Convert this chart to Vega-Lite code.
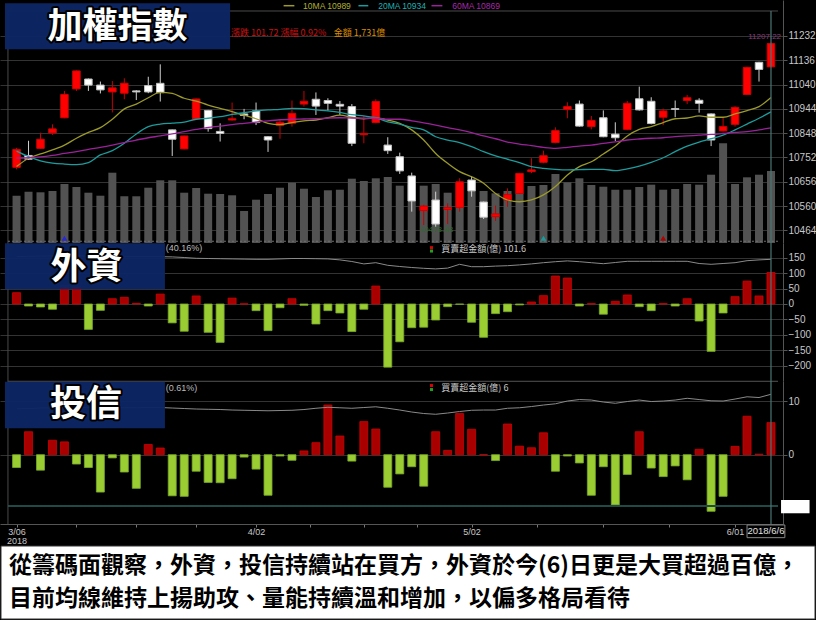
{
"$schema":"https://vega.github.io/schema/vega-lite/v6.json",
"background":"black",
"padding":0,
"bounds":"flush",
"spacing":0,
"config":{"view":{"stroke":null},"text":{"font":"Liberation Sans"}},
"datasets":{"d":[
{"i":0,"d":"3/06","o":10713,"h":10790,"l":10705,"c":10784,"v":1137,"m10":10716,"m20":10777,"m60":10750,"f":36.6,"fh":40.30,"t":-2.4,"th":0.552},
{"i":1,"d":"3/07","o":10760,"h":10818,"l":10742,"c":10745,"v":1233,"m10":10749,"m20":10755,"m60":10751,"f":-6.5,"fh":40.31,"t":4.3,"th":0.553},
{"i":2,"d":"3/08","o":10788,"h":10850,"l":10786,"c":10824,"v":1219,"m10":10766,"m20":10739,"m60":10754,"f":-9.7,"fh":40.32,"t":-2.9,"th":0.555},
{"i":3,"d":"3/09","o":10849,"h":10883,"l":10841,"c":10865,"v":1250,"m10":10782,"m20":10730,"m60":10760,"f":-17,"fh":40.33,"t":2.7,"th":0.556},
{"i":4,"d":"3/12","o":10909,"h":11015,"l":10907,"c":11001,"v":1418,"m10":10801,"m20":10726,"m60":10768,"f":60,"fh":40.33,"t":2.4,"th":0.557},
{"i":5,"d":"3/13","o":11023,"h":11096,"l":11015,"c":11094,"v":1346,"m10":10828,"m20":10724,"m60":10775,"f":55,"fh":40.33,"t":-1.75,"th":0.557},
{"i":6,"d":"3/14","o":11062,"h":11064,"l":11015,"c":11038,"v":1209,"m10":10851,"m20":10732,"m60":10784,"f":-82,"fh":40.32,"t":-2.4,"th":0.558},
{"i":7,"d":"3/15","o":11038,"h":11052,"l":11005,"c":11019,"v":1137,"m10":10870,"m20":10762,"m60":10792,"f":-20.5,"fh":40.32,"t":-7,"th":0.557},
{"i":8,"d":"3/16","o":11011,"h":11054,"l":10930,"c":11027,"v":1690,"m10":10903,"m20":10779,"m60":10801,"f":17,"fh":40.31,"t":-0.6,"th":0.557},
{"i":9,"d":"3/19","o":11006,"h":11065,"l":10982,"c":11045,"v":1123,"m10":10944,"m20":10808,"m60":10811,"f":21.5,"fh":40.31,"t":-3.25,"th":0.556},
{"i":10,"d":"3/20","o":11015,"h":11018,"l":10979,"c":11011,"v":1123,"m10":10963,"m20":10845,"m60":10821,"f":2,"fh":40.30,"t":-6.3,"th":0.556},
{"i":11,"d":"3/21","o":11036,"h":11071,"l":11006,"c":11011,"v":1329,"m10":10988,"m20":10874,"m60":10830,"f":-6.5,"fh":40.30,"t":1.9,"th":0.557},
{"i":12,"d":"3/22","o":11045,"h":11120,"l":10973,"c":11008,"v":1507,"m10":11009,"m20":10884,"m60":10837,"f":32,"fh":40.29,"t":1.25,"th":0.557},
{"i":13,"d":"3/23","o":10861,"h":10862,"l":10758,"c":10824,"v":1507,"m10":11005,"m20":10888,"m60":10845,"f":-61,"fh":40.28,"t":-7.7,"th":0.555},
{"i":14,"d":"3/26","o":10786,"h":10838,"l":10784,"c":10837,"v":1209,"m10":10986,"m20":10892,"m60":10854,"f":-88,"fh":40.25,"t":-7.8,"th":0.553},
{"i":15,"d":"3/27","o":10904,"h":10985,"l":10902,"c":10983,"v":1322,"m10":10975,"m20":10903,"m60":10863,"f":26,"fh":40.21,"t":-3.1,"th":0.551},
{"i":16,"d":"3/28","o":10938,"h":10940,"l":10854,"c":10866,"v":1185,"m10":10959,"m20":10907,"m60":10871,"f":-91.5,"fh":40.20,"t":-5.2,"th":0.550},
{"i":17,"d":"3/29","o":10855,"h":10887,"l":10815,"c":10847,"v":1178,"m10":10946,"m20":10913,"m60":10876,"f":-124,"fh":40.19,"t":-5.25,"th":0.549},
{"i":18,"d":"3/30","o":10900,"h":10969,"l":10898,"c":10905,"v":1147,"m10":10933,"m20":10922,"m60":10882,"f":19,"fh":40.18,"t":-4.5,"th":0.547},
{"i":19,"d":"3/31","o":10924,"h":10944,"l":10903,"c":10918,"v":769,"m10":10919,"m20":10929,"m60":10887,"f":0.5,"fh":40.17,"t":-0.45,"th":0.546},
{"i":20,"d":"4/02","o":10936,"h":10969,"l":10880,"c":10890,"v":1041,"m10":10905,"m20":10936,"m60":10892,"f":-21.5,"fh":40.16,"t":-2.7,"th":0.545},
{"i":21,"d":"4/03","o":10834,"h":10836,"l":10774,"c":10821,"v":1178,"m10":10887,"m20":10940,"m60":10897,"f":-86,"fh":40.16,"t":-7.6,"th":0.544},
{"i":22,"d":"4/09","o":10878,"h":10903,"l":10826,"c":10891,"v":1329,"m10":10882,"m20":10942,"m60":10901,"f":-12,"fh":40.18,"t":-0.25,"th":0.545},
{"i":23,"d":"4/10","o":10887,"h":10977,"l":10874,"c":10926,"v":1450,"m10":10890,"m20":10946,"m60":10903,"f":17,"fh":40.20,"t":-1.05,"th":0.546},
{"i":24,"d":"4/11","o":10963,"h":11015,"l":10953,"c":10974,"v":1305,"m10":10897,"m20":10945,"m60":10904,"f":-4.3,"fh":40.20,"t":0.7,"th":0.549},
{"i":25,"d":"4/12","o":10982,"h":11009,"l":10920,"c":10955,"v":1106,"m10":10900,"m20":10940,"m60":10905,"f":-64.6,"fh":40.19,"t":2.25,"th":0.554},
{"i":26,"d":"4/13","o":10977,"h":10986,"l":10937,"c":10966,"v":1267,"m10":10909,"m20":10936,"m60":10908,"f":-21.5,"fh":40.18,"t":9.3,"th":0.558},
{"i":27,"d":"4/16","o":10962,"h":10975,"l":10920,"c":10955,"v":1281,"m10":10919,"m20":10930,"m60":10909,"f":-29,"fh":40.13,"t":3.5,"th":0.556},
{"i":28,"d":"4/17","o":10953,"h":10963,"l":10797,"c":10808,"v":1546,"m10":10911,"m20":10921,"m60":10908,"f":-89,"fh":40.05,"t":-1.2,"th":0.554},
{"i":29,"d":"4/18","o":10842,"h":10916,"l":10808,"c":10847,"v":1490,"m10":10905,"m20":10916,"m60":10907,"f":-17,"fh":39.93,"t":6.2,"th":0.557},
{"i":30,"d":"4/19","o":10890,"h":10982,"l":10887,"c":10973,"v":1555,"m10":10908,"m20":10909,"m60":10907,"f":58,"fh":39.99,"t":4.8,"th":0.560},
{"i":31,"d":"4/20","o":10801,"h":10832,"l":10766,"c":10779,"v":1587,"m10":10900,"m20":10893,"m60":10903,"f":-204,"fh":39.86,"t":-6.1,"th":0.554},
{"i":32,"d":"4/23","o":10755,"h":10771,"l":10687,"c":10699,"v":1378,"m10":10887,"m20":10884,"m60":10903,"f":-122,"fh":39.80,"t":-3.6,"th":0.547},
{"i":33,"d":"4/24","o":10679,"h":10692,"l":10538,"c":10580,"v":1394,"m10":10861,"m20":10871,"m60":10897,"f":-76.5,"fh":39.75,"t":-2.25,"th":0.539},
{"i":34,"d":"4/25","o":10542,"h":10565,"l":10485,"c":10560,"v":1378,"m10":10821,"m20":10861,"m60":10889,"f":-75,"fh":39.71,"t":-5.9,"th":0.533},
{"i":35,"d":"4/26","o":10584,"h":10617,"l":10478.48,"c":10489,"v":1418,"m10":10768,"m20":10834,"m60":10880,"f":-51.7,"fh":39.68,"t":4.3,"th":0.530},
{"i":36,"d":"4/27","o":10547,"h":10571,"l":10489,"c":10554,"v":1209,"m10":10729,"m20":10821,"m60":10870,"f":-8.6,"fh":39.72,"t":0.8,"th":0.535},
{"i":37,"d":"4/30","o":10555,"h":10670,"l":10538,"c":10656,"v":1442,"m10":10696,"m20":10811,"m60":10861,"f":-1,"fh":39.91,"t":7.7,"th":0.541},
{"i":38,"d":"5/02","o":10663,"h":10679,"l":10597,"c":10620,"v":1250,"m10":10676,"m20":10795,"m60":10850,"f":-59,"fh":39.79,"t":4.75,"th":0.546},
{"i":39,"d":"5/03","o":10576,"h":10578,"l":10509,"c":10516,"v":1250,"m10":10650,"m20":10775,"m60":10837,"f":-107.6,"fh":39.79,"t":0,"th":0.547},
{"i":40,"d":"5/04","o":10518,"h":10562,"l":10501,"c":10529,"v":1195,"m10":10610,"m20":10758,"m60":10826,"f":-31,"fh":39.82,"t":-1.1,"th":0.547},
{"i":41,"d":"5/07","o":10584,"h":10630,"l":10557,"c":10605,"v":1250,"m10":10584,"m20":10745,"m60":10813,"f":-24.8,"fh":39.84,"t":5.75,"th":0.554},
{"i":42,"d":"5/08","o":10610,"h":10691,"l":10608,"c":10689,"v":1202,"m10":10577,"m20":10732,"m60":10805,"f":-3,"fh":39.88,"t":1.6,"th":0.556},
{"i":43,"d":"5/09","o":10696,"h":10749,"l":10690,"c":10703,"v":1370,"m10":10584,"m20":10716,"m60":10799,"f":6.5,"fh":39.93,"t":1.3,"th":0.561},
{"i":44,"d":"5/10","o":10733,"h":10779,"l":10729,"c":10759,"v":1394,"m10":10604,"m20":10709,"m60":10792,"f":27,"fh":39.99,"t":4.1,"th":0.567},
{"i":45,"d":"5/11","o":10811,"h":10871,"l":10808,"c":10858,"v":1659,"m10":10637,"m20":10705,"m60":10788,"f":90.4,"fh":40.04,"t":-3.1,"th":0.572},
{"i":46,"d":"5/14","o":10942,"h":10970,"l":10907,"c":10953,"v":1459,"m10":10683,"m20":10703,"m60":10792,"f":84,"fh":40.08,"t":-0.25,"th":0.583},
{"i":47,"d":"5/15","o":10963,"h":10977,"l":10874,"c":10876,"v":1555,"m10":10716,"m20":10704,"m60":10797,"f":-6.5,"fh":40.04,"t":-1.55,"th":0.589},
{"i":48,"d":"5/16","o":10874,"h":10916,"l":10863,"c":10898,"v":1394,"m10":10735,"m20":10705,"m60":10801,"f":1,"fh":39.99,"t":-7.6,"th":0.587},
{"i":49,"d":"5/17","o":10909,"h":10938,"l":10832,"c":10834,"v":1353,"m10":10766,"m20":10705,"m60":10808,"f":-33,"fh":39.94,"t":-2.25,"th":0.579},
{"i":50,"d":"5/18","o":10844,"h":10891,"l":10817,"c":10830,"v":1281,"m10":10797,"m20":10700,"m60":10814,"f":8.6,"fh":40.00,"t":-9.4,"th":0.574},
{"i":51,"d":"5/21","o":10863,"h":10975,"l":10860,"c":10966,"v":1281,"m10":10837,"m20":10707,"m60":10821,"f":29,"fh":40.06,"t":-3.7,"th":0.581},
{"i":52,"d":"5/22","o":10984,"h":11032,"l":10937,"c":10940,"v":1346,"m10":10863,"m20":10718,"m60":10825,"f":-8.6,"fh":40.06,"t":4.3,"th":0.587},
{"i":53,"d":"5/23","o":10974,"h":10990,"l":10883,"c":10886,"v":1402,"m10":10874,"m20":10733,"m60":10828,"f":-21.5,"fh":40.06,"t":-2.5,"th":0.581},
{"i":54,"d":"5/24","o":10911,"h":10945,"l":10880,"c":10936,"v":1281,"m10":10890,"m20":10751,"m60":10830,"f":1,"fh":40.06,"t":-4.1,"th":0.583},
{"i":55,"d":"5/25","o":10945,"h":10977,"l":10911,"c":10942,"v":1298,"m10":10905,"m20":10775,"m60":10834,"f":-6.5,"fh":40.06,"t":-2.1,"th":0.587},
{"i":56,"d":"5/28","o":10977,"h":10999,"l":10963,"c":10988,"v":1418,"m10":10908,"m20":10797,"m60":10837,"f":17,"fh":40.06,"t":-4.7,"th":0.594},
{"i":57,"d":"5/29","o":10978,"h":10986,"l":10929,"c":10966,"v":1402,"m10":10916,"m20":10813,"m60":10840,"f":-55,"fh":39.95,"t":1,"th":0.589},
{"i":58,"d":"5/30","o":10924,"h":10926,"l":10797,"c":10821,"v":1642,"m10":10911,"m20":10826,"m60":10843,"f":-153,"fh":39.91,"t":-10.6,"th":0.584},
{"i":59,"d":"5/31","o":10857,"h":10911,"l":10855,"c":10874,"v":2397,"m10":10911,"m20":10840,"m60":10847,"f":-29,"fh":39.95,"t":-7.8,"th":0.583},
{"i":60,"d":"6/01","o":10883,"h":10955,"l":10874,"c":10950,"v":1418,"m10":10924,"m20":10861,"m60":10851,"f":23.7,"fh":39.99,"t":1.55,"th":0.591},
{"i":61,"d":"6/04","o":11001,"h":11110,"l":10999,"c":11108,"v":1579,"m10":10937,"m20":10884,"m60":10854,"f":74,"fh":40.09,"t":7.2,"th":0.600},
{"i":62,"d":"6/05","o":11128,"h":11130,"l":11052,"c":11100,"v":1642,"m10":10953,"m20":10907,"m60":10861,"f":26,"fh":40.13,"t":0.1,"th":0.597},
{"i":63,"d":"6/06","o":11110,"h":11207,"l":11110,"c":11202,"v":1731,"m10":10989,"m20":10932,"m60":10869,"f":101.6,"fh":40.16,"t":6,"th":0.610}
]},
"vconcat":[
{"width":783,"height":243,"resolve":{"scale":{"y":"independent"}},"layer":[
{"data":{"name":"d"},"mark":{"type":"bar","size":8,"color":"#525252"},"encoding":{"x":{"field":"i","type":"quantitative","scale":{"domain":[-0.9646,63.586],"nice":false,"zero":false},"axis":null},"y":{"field":"v","type":"quantitative","scale":{"domain":[0,5841.7],"nice":false,"zero":false},"axis":null},"y2":{"datum":0}}},
{"data":{"values":[{}]},"mark":{"type":"rule","color":"#4a4a4a","strokeWidth":1},"encoding":{"x":{"datum":-0.717,"type":"quantitative","scale":{"domain":[-0.9646,63.586],"nice":false,"zero":false},"axis":null},"x2":{"datum":63.586},"y":{"datum":11330.8,"type":"quantitative","scale":{"domain":[10414.1,11374.2],"nice":false,"zero":false},"axis":{"orient":"right","values":[10464,10560,10656,10752,10848,10944,11040,11136,11232],"format":"d","grid":true,"gridColor":"#333333","labelColor":"#c8c8c8","labelFont":"Liberation Sans","labelFontSize":10,"domainColor":"#555555","tickColor":"#555555","tickSize":4,"labelPadding":1,"title":null}}}},
{"data":{"values":[{}]},"mark":{"type":"rule","color":"#4a4a4a","strokeWidth":1},"encoding":{"x":{"datum":-0.717,"type":"quantitative","scale":{"domain":[-0.9646,63.586],"nice":false,"zero":false},"axis":null},"y":{"datum":11330.8,"type":"quantitative","scale":{"domain":[10414.1,11374.2],"nice":false,"zero":false},"axis":null},"y2":{"datum":10414.1}}},
{"data":{"values":[{}]},"mark":{"type":"rule","color":"#707070","strokeWidth":1,"strokeDash":[2,2]},"encoding":{"x":{"datum":-0.717,"type":"quantitative","scale":{"domain":[-0.9646,63.586],"nice":false,"zero":false},"axis":null},"x2":{"datum":63.586},"y":{"datum":10421,"type":"quantitative","scale":{"domain":[10414.1,11374.2],"nice":false,"zero":false},"axis":null}}},
{"data":{"name":"d"},"mark":{"type":"rule","strokeWidth":1},"encoding":{"x":{"field":"i","type":"quantitative","scale":{"domain":[-0.9646,63.586],"nice":false,"zero":false},"axis":null},"y":{"field":"l","type":"quantitative","scale":{"domain":[10414.1,11374.2],"nice":false,"zero":false},"axis":null},"y2":{"field":"h"},"color":{"condition":{"test":"datum.c>=datum.o","value":"#c80000"},"value":"#d0d0d0"}}},
{"data":{"name":"d"},"mark":{"type":"bar","size":7.5,"strokeWidth":1},"encoding":{"x":{"field":"i","type":"quantitative","scale":{"domain":[-0.9646,63.586],"nice":false,"zero":false},"axis":null},"y":{"field":"o","type":"quantitative","scale":{"domain":[10414.1,11374.2],"nice":false,"zero":false},"axis":null},"y2":{"field":"c"},"fill":{"condition":{"test":"datum.c>=datum.o","value":"#ff0000"},"value":"#ffffff"},"stroke":{"condition":{"test":"datum.c>=datum.o","value":"#d00000"},"value":"#c0c0c0"}}},
{"data":{"name":"d"},"mark":{"type":"line","color":"#9b9a2a","strokeWidth":1.3,"interpolate":"monotone"},"encoding":{"x":{"field":"i","type":"quantitative","scale":{"domain":[-0.9646,63.586],"nice":false,"zero":false},"axis":null},"y":{"field":"m10","type":"quantitative","scale":{"domain":[10414.1,11374.2],"nice":false,"zero":false},"axis":null}}},
{"data":{"name":"d"},"mark":{"type":"line","color":"#1c9c9c","strokeWidth":1.3,"interpolate":"monotone"},"encoding":{"x":{"field":"i","type":"quantitative","scale":{"domain":[-0.9646,63.586],"nice":false,"zero":false},"axis":null},"y":{"field":"m20","type":"quantitative","scale":{"domain":[10414.1,11374.2],"nice":false,"zero":false},"axis":null}}},
{"data":{"name":"d"},"mark":{"type":"line","color":"#9b229b","strokeWidth":1.3,"interpolate":"monotone"},"encoding":{"x":{"field":"i","type":"quantitative","scale":{"domain":[-0.9646,63.586],"nice":false,"zero":false},"axis":null},"y":{"field":"m60","type":"quantitative","scale":{"domain":[10414.1,11374.2],"nice":false,"zero":false},"axis":null}}},
{"data":{"values":[{}]},"mark":{"type":"rule","color":"#4b7575","strokeWidth":1.2},"encoding":{"x":{"datum":63,"type":"quantitative","scale":{"domain":[-0.9646,63.586],"nice":false,"zero":false},"axis":null},"y":{"datum":11330.8,"type":"quantitative","scale":{"domain":[10414.1,11374.2],"nice":false,"zero":false},"axis":null},"y2":{"datum":10414.1}}},
{"data":{"values":[{}]},"mark":{"type":"point","shape":"triangle-up","filled":true,"size":35,"color":"#2828d8","opacity":1},"encoding":{"x":{"datum":4,"type":"quantitative","scale":{"domain":[-0.9646,63.586],"nice":false,"zero":false},"axis":null},"y":{"datum":10432.7,"type":"quantitative","scale":{"domain":[10414.1,11374.2],"nice":false,"zero":false},"axis":null}}},
{"data":{"values":[{}]},"mark":{"type":"point","shape":"triangle-up","filled":true,"size":35,"color":"#1a9a9a","opacity":1},"encoding":{"x":{"datum":44,"type":"quantitative","scale":{"domain":[-0.9646,63.586],"nice":false,"zero":false},"axis":null},"y":{"datum":10432.7,"type":"quantitative","scale":{"domain":[10414.1,11374.2],"nice":false,"zero":false},"axis":null}}},
{"data":{"values":[{}]},"mark":{"type":"point","shape":"triangle-up","filled":true,"size":35,"color":"#b00000","opacity":1},"encoding":{"x":{"datum":54,"type":"quantitative","scale":{"domain":[-0.9646,63.586],"nice":false,"zero":false},"axis":null},"y":{"datum":10432.7,"type":"quantitative","scale":{"domain":[10414.1,11374.2],"nice":false,"zero":false},"axis":null}}},
{"data":{"values":[{}]},"mark":{"type":"text","text":"10478.48","align":"center","baseline":"middle","fontSize":8,"color":"#2f6a2f"},"encoding":{"x":{"datum":35.06,"type":"quantitative","scale":{"domain":[-0.9646,63.586],"nice":false,"zero":false},"axis":null},"y":{"datum":10465.5,"type":"quantitative","scale":{"domain":[10414.1,11374.2],"nice":false,"zero":false},"axis":null}}},
{"data":{"values":[{}]},"mark":{"type":"text","text":"11207.22","align":"right","baseline":"middle","fontSize":8,"color":"#8a3d7c"},"encoding":{"x":{"datum":63.84,"type":"quantitative","scale":{"domain":[-0.9646,63.586],"nice":false,"zero":false},"axis":null},"y":{"datum":11229,"type":"quantitative","scale":{"domain":[10414.1,11374.2],"nice":false,"zero":false},"axis":null}}},
{"data":{"values":[{}]},"mark":{"type":"rect","color":"#0c2664","opacity":0.96},"encoding":{"x":{"datum":-0.9646,"type":"quantitative","scale":{"domain":[-0.9646,63.586],"nice":false,"zero":false},"axis":null},"x2":{"datum":17.83},"y":{"datum":11361.2,"type":"quantitative","scale":{"domain":[10414.1,11374.2],"nice":false,"zero":false},"axis":null},"y2":{"datum":11179.5}}},
{"data":{"values":[{}]},"mark":{"type":"text","text":"加權指數","font":"Noto Sans CJK TC","fontWeight":"bold","fontSize":35,"align":"center","baseline":"middle","fill":"black","stroke":"black","strokeWidth":4,"strokeJoin":"round"},"encoding":{"x":{"datum":8.43,"type":"quantitative","scale":{"domain":[-0.9646,63.586],"nice":false,"zero":false},"axis":null},"y":{"datum":11268.7,"type":"quantitative","scale":{"domain":[10414.1,11374.2],"nice":false,"zero":false},"axis":null}}},
{"data":{"values":[{}]},"mark":{"type":"text","text":"加權指數","font":"Noto Sans CJK TC","fontWeight":"bold","fontSize":35,"align":"center","baseline":"middle","fill":"white"},"encoding":{"x":{"datum":8.43,"type":"quantitative","scale":{"domain":[-0.9646,63.586],"nice":false,"zero":false},"axis":null},"y":{"datum":11268.7,"type":"quantitative","scale":{"domain":[10414.1,11374.2],"nice":false,"zero":false},"axis":null}}},
{"data":{"values":[{}]},"mark":{"type":"rule","color":"#9b9a2a","strokeWidth":1.5},"encoding":{"x":{"datum":22.3,"type":"quantitative","scale":{"domain":[-0.9646,63.586],"nice":false,"zero":false},"axis":null},"x2":{"datum":23.2},"y":{"datum":11351.7,"type":"quantitative","scale":{"domain":[10414.1,11374.2],"nice":false,"zero":false},"axis":null}}},
{"data":{"values":[{}]},"mark":{"type":"rule","color":"#1c9c9c","strokeWidth":1.5},"encoding":{"x":{"datum":28.55,"type":"quantitative","scale":{"domain":[-0.9646,63.586],"nice":false,"zero":false},"axis":null},"x2":{"datum":29.37},"y":{"datum":11351.7,"type":"quantitative","scale":{"domain":[10414.1,11374.2],"nice":false,"zero":false},"axis":null}}},
{"data":{"values":[{}]},"mark":{"type":"rule","color":"#9b229b","strokeWidth":1.5},"encoding":{"x":{"datum":34.65,"type":"quantitative","scale":{"domain":[-0.9646,63.586],"nice":false,"zero":false},"axis":null},"x2":{"datum":35.56},"y":{"datum":11351.7,"type":"quantitative","scale":{"domain":[10414.1,11374.2],"nice":false,"zero":false},"axis":null}}},
{"data":{"values":[{}]},"mark":{"type":"text","text":"10MA 10989","align":"left","baseline":"middle","fontSize":8.5,"color":"#b0b032"},"encoding":{"x":{"datum":23.93,"type":"quantitative","scale":{"domain":[-0.9646,63.586],"nice":false,"zero":false},"axis":null},"y":{"datum":11351.7,"type":"quantitative","scale":{"domain":[10414.1,11374.2],"nice":false,"zero":false},"axis":null}}},
{"data":{"values":[{}]},"mark":{"type":"text","text":"20MA 10934","align":"left","baseline":"middle","fontSize":8.5,"color":"#20b0b0"},"encoding":{"x":{"datum":30.2,"type":"quantitative","scale":{"domain":[-0.9646,63.586],"nice":false,"zero":false},"axis":null},"y":{"datum":11351.7,"type":"quantitative","scale":{"domain":[10414.1,11374.2],"nice":false,"zero":false},"axis":null}}},
{"data":{"values":[{}]},"mark":{"type":"text","text":"60MA 10869","align":"left","baseline":"middle","fontSize":8.5,"color":"#a82aa8"},"encoding":{"x":{"datum":36.38,"type":"quantitative","scale":{"domain":[-0.9646,63.586],"nice":false,"zero":false},"axis":null},"y":{"datum":11351.7,"type":"quantitative","scale":{"domain":[10414.1,11374.2],"nice":false,"zero":false},"axis":null}}},
{"data":{"values":[{}]},"mark":{"type":"text","text":"漲跌 101.72","align":"left","baseline":"middle","font":"Noto Sans CJK TC","fontSize":9,"color":"#d01010"},"encoding":{"x":{"datum":17.91,"type":"quantitative","scale":{"domain":[-0.9646,63.586],"nice":false,"zero":false},"axis":null},"y":{"datum":11242.7,"type":"quantitative","scale":{"domain":[10414.1,11374.2],"nice":false,"zero":false},"axis":null}}},
{"data":{"values":[{}]},"mark":{"type":"text","text":"漲幅 0.92%","align":"left","baseline":"middle","font":"Noto Sans CJK TC","fontSize":9,"color":"#d01010"},"encoding":{"x":{"datum":22.04,"type":"quantitative","scale":{"domain":[-0.9646,63.586],"nice":false,"zero":false},"axis":null},"y":{"datum":11242.7,"type":"quantitative","scale":{"domain":[10414.1,11374.2],"nice":false,"zero":false},"axis":null}}},
{"data":{"values":[{}]},"mark":{"type":"text","text":"金額 1,731億","align":"left","baseline":"middle","font":"Noto Sans CJK TC","fontSize":9,"color":"#d98c00"},"encoding":{"x":{"datum":26.49,"type":"quantitative","scale":{"domain":[-0.9646,63.586],"nice":false,"zero":false},"axis":null},"y":{"datum":11242.7,"type":"quantitative","scale":{"domain":[10414.1,11374.2],"nice":false,"zero":false},"axis":null}}}
]},
{"width":783,"height":138,"resolve":{"scale":{"y":"independent"}},"layer":[
{"data":{"name":"d"},"mark":{"type":"bar","size":8,"strokeWidth":0.8},"encoding":{"x":{"field":"i","type":"quantitative","scale":{"domain":[-0.9646,63.586],"nice":false,"zero":false},"axis":null},"y":{"field":"f","type":"quantitative","scale":{"domain":[-248.7,197],"nice":false,"zero":false},"axis":{"orient":"right","values":[-200,-150,-100,-50,0,50,100,150],"grid":true,"gridColor":"#333333","labelColor":"#c8c8c8","labelFont":"Liberation Sans","labelFontSize":10,"domainColor":"#555555","tickColor":"#555555","tickSize":4,"labelPadding":1,"title":null}},"y2":{"datum":0},"fill":{"condition":{"test":"datum.f>=0","value":"#a80000"},"value":"#9acd32"},"stroke":{"condition":{"test":"datum.f>=0","value":"#d00000"},"value":"#78a82a"}}},
{"data":{"name":"d"},"mark":{"type":"line","color":"#8a8a8a","strokeWidth":1},"encoding":{"x":{"field":"i","type":"quantitative","scale":{"domain":[-0.9646,63.586],"nice":false,"zero":false},"axis":null},"y":{"field":"fh","type":"quantitative","scale":{"domain":[34.075,40.975],"nice":false,"zero":false},"axis":null}}},
{"data":{"values":[{}]},"mark":{"type":"rule","color":"#4a4a4a","strokeWidth":1},"encoding":{"x":{"datum":-0.717,"type":"quantitative","scale":{"domain":[-0.9646,63.586],"nice":false,"zero":false},"axis":null},"y":{"datum":197,"type":"quantitative","scale":{"domain":[-248.7,197],"nice":false,"zero":false},"axis":null},"y2":{"datum":-248.7}}},
{"data":{"values":[{}]},"mark":{"type":"rule","color":"#4b7575","strokeWidth":1.2},"encoding":{"x":{"datum":63,"type":"quantitative","scale":{"domain":[-0.9646,63.586],"nice":false,"zero":false},"axis":null},"y":{"datum":197,"type":"quantitative","scale":{"domain":[-248.7,197],"nice":false,"zero":false},"axis":null},"y2":{"datum":-248.7}}},
{"data":{"values":[{}]},"mark":{"type":"rect","color":"#0c2664","opacity":0.96},"encoding":{"x":{"datum":-0.9646,"type":"quantitative","scale":{"domain":[-0.9646,63.586],"nice":false,"zero":false},"axis":null},"x2":{"datum":12.39},"y":{"datum":196.1,"type":"quantitative","scale":{"domain":[-248.7,197],"nice":false,"zero":false},"axis":null},"y2":{"datum":47.4}}},
{"data":{"values":[{}]},"mark":{"type":"text","text":"外資","font":"Noto Sans CJK TC","fontWeight":"bold","fontSize":36,"align":"center","baseline":"middle","fill":"black","stroke":"black","strokeWidth":4,"strokeJoin":"round"},"encoding":{"x":{"datum":5.84,"type":"quantitative","scale":{"domain":[-0.9646,63.586],"nice":false,"zero":false},"axis":null},"y":{"datum":116.3,"type":"quantitative","scale":{"domain":[-248.7,197],"nice":false,"zero":false},"axis":null}}},
{"data":{"values":[{}]},"mark":{"type":"text","text":"外資","font":"Noto Sans CJK TC","fontWeight":"bold","fontSize":36,"align":"center","baseline":"middle","fill":"white"},"encoding":{"x":{"datum":5.84,"type":"quantitative","scale":{"domain":[-0.9646,63.586],"nice":false,"zero":false},"axis":null},"y":{"datum":116.3,"type":"quantitative","scale":{"domain":[-248.7,197],"nice":false,"zero":false},"axis":null}}},
{"data":{"values":[{}]},"mark":{"type":"text","text":"(40.16%)","align":"left","baseline":"middle","fontSize":9,"color":"#bbbbbb"},"encoding":{"x":{"datum":12.45,"type":"quantitative","scale":{"domain":[-0.9646,63.586],"nice":false,"zero":false},"axis":null},"y":{"datum":179.9,"type":"quantitative","scale":{"domain":[-248.7,197],"nice":false,"zero":false},"axis":null}}},
{"data":{"values":[{}]},"mark":{"type":"point","shape":"square","filled":true,"size":9,"color":"#e00000","opacity":1},"encoding":{"x":{"datum":34.65,"type":"quantitative","scale":{"domain":[-0.9646,63.586],"nice":false,"zero":false},"axis":null},"y":{"datum":182,"type":"quantitative","scale":{"domain":[-248.7,197],"nice":false,"zero":false},"axis":null}}},
{"data":{"values":[{}]},"mark":{"type":"point","shape":"square","filled":true,"size":9,"color":"#20a020","opacity":1},"encoding":{"x":{"datum":34.65,"type":"quantitative","scale":{"domain":[-0.9646,63.586],"nice":false,"zero":false},"axis":null},"y":{"datum":171,"type":"quantitative","scale":{"domain":[-248.7,197],"nice":false,"zero":false},"axis":null}}},
{"data":{"values":[{}]},"mark":{"type":"text","text":"買賣超金額(億) 101.6","align":"left","baseline":"middle","font":"Noto Sans CJK TC","fontSize":9,"color":"#c8c8c8"},"encoding":{"x":{"datum":35.47,"type":"quantitative","scale":{"domain":[-0.9646,63.586],"nice":false,"zero":false},"axis":null},"y":{"datum":178.6,"type":"quantitative","scale":{"domain":[-248.7,197],"nice":false,"zero":false},"axis":null}}}
]},
{"width":783,"height":143,"resolve":{"scale":{"y":"independent"},"axis":{"x":"independent"}},"layer":[
{"data":{"name":"d"},"mark":{"type":"bar","size":8,"strokeWidth":0.8},"encoding":{"x":{"field":"i","type":"quantitative","scale":{"domain":[-0.9646,63.586],"nice":false,"zero":false},"axis":{"orient":"bottom","values":[0,5,10,15,20,24.5,29,33.4,38,43.5,49,54.5,60],"labelExpr":"datum.value==0?'3/06':datum.value==20?'4/02':datum.value==38?'5/02':datum.value==60?'6/01':''","labelColor":"#c8c8c8","labelFont":"Liberation Sans","labelFontSize":9,"labelPadding":0,"labelOverlap":false,"labelFlush":false,"labelBound":false,"domainColor":"#555555","tickColor":"#777777","tickSize":3,"grid":false,"title":null}},"y":{"field":"t","type":"quantitative","scale":{"domain":[-12.98,13.8],"nice":false,"zero":false},"axis":{"orient":"right","values":[0,10],"grid":true,"gridColor":"#333333","labelColor":"#c8c8c8","labelFont":"Liberation Sans","labelFontSize":10,"domainColor":"#555555","tickColor":"#555555","tickSize":4,"labelPadding":1,"title":null}},"y2":{"datum":0},"fill":{"condition":{"test":"datum.t>=0","value":"#a80000"},"value":"#9acd32"},"stroke":{"condition":{"test":"datum.t>=0","value":"#d00000"},"value":"#78a82a"}}},
{"data":{"name":"d"},"mark":{"type":"line","color":"#8a8a8a","strokeWidth":1},"encoding":{"x":{"field":"i","type":"quantitative","scale":{"domain":[-0.9646,63.586],"nice":false,"zero":false},"axis":{"orient":"bottom","values":[0],"labelExpr":"'2018'","labelColor":"#c8c8c8","labelFont":"Liberation Sans","labelFontSize":9,"labelPadding":12.5,"ticks":false,"domain":false,"grid":false,"labelOverlap":false,"labelFlush":false,"labelBound":false,"title":null}},"y":{"field":"th","type":"quantitative","scale":{"domain":[0.0908,0.6632],"nice":false,"zero":false},"axis":null}}},
{"data":{"values":[{}]},"mark":{"type":"rule","color":"#1f4a47","strokeWidth":2},"encoding":{"x":{"datum":-0.717,"type":"quantitative","scale":{"domain":[-0.9646,63.586],"nice":false,"zero":false},"axis":null},"x2":{"datum":63.586},"y":{"datum":-9.6,"type":"quantitative","scale":{"domain":[-12.98,13.8],"nice":false,"zero":false},"axis":null}}},
{"data":{"values":[{}]},"mark":{"type":"rule","color":"#555555","strokeWidth":1},"encoding":{"x":{"datum":-0.717,"type":"quantitative","scale":{"domain":[-0.9646,63.586],"nice":false,"zero":false},"axis":null},"x2":{"datum":63.586},"y":{"datum":13.75,"type":"quantitative","scale":{"domain":[-12.98,13.8],"nice":false,"zero":false},"axis":null}}},
{"data":{"values":[{}]},"mark":{"type":"rule","color":"#4a4a4a","strokeWidth":1},"encoding":{"x":{"datum":-0.717,"type":"quantitative","scale":{"domain":[-0.9646,63.586],"nice":false,"zero":false},"axis":null},"y":{"datum":13.8,"type":"quantitative","scale":{"domain":[-12.98,13.8],"nice":false,"zero":false},"axis":null},"y2":{"datum":-12.98}}},
{"data":{"values":[{}]},"mark":{"type":"rule","color":"#4b7575","strokeWidth":1.2},"encoding":{"x":{"datum":63,"type":"quantitative","scale":{"domain":[-0.9646,63.586],"nice":false,"zero":false},"axis":null},"y":{"datum":13.8,"type":"quantitative","scale":{"domain":[-12.98,13.8],"nice":false,"zero":false},"axis":null},"y2":{"datum":-12.98}}},
{"data":{"values":[{}]},"mark":{"type":"rect","color":"white"},"encoding":{"x":{"datum":63.84,"type":"quantitative","scale":{"domain":[-0.9646,63.586],"nice":false,"zero":false},"axis":null},"x2":{"datum":66.22},"y":{"datum":-8.48,"type":"quantitative","scale":{"domain":[-12.98,13.8],"nice":false,"zero":false},"axis":null},"y2":{"datum":-10.97}}},
{"data":{"values":[{}]},"mark":{"type":"rect","fill":"black","stroke":"#888888","strokeWidth":1},"encoding":{"x":{"datum":61.0,"type":"quantitative","scale":{"domain":[-0.9646,63.586],"nice":false,"zero":false},"axis":null},"x2":{"datum":64.16},"y":{"datum":-13.16,"type":"quantitative","scale":{"domain":[-12.98,13.8],"nice":false,"zero":false},"axis":null},"y2":{"datum":-15.54}}},
{"data":{"values":[{}]},"mark":{"type":"text","text":"2018/6/6","align":"center","baseline":"middle","fontSize":9.5,"color":"#e0e0e0"},"encoding":{"x":{"datum":62.58,"type":"quantitative","scale":{"domain":[-0.9646,63.586],"nice":false,"zero":false},"axis":null},"y":{"datum":-14.38,"type":"quantitative","scale":{"domain":[-12.98,13.8],"nice":false,"zero":false},"axis":null}}},
{"data":{"values":[{}]},"mark":{"type":"rect","color":"#0c2664","opacity":0.96},"encoding":{"x":{"datum":-0.9646,"type":"quantitative","scale":{"domain":[-0.9646,63.586],"nice":false,"zero":false},"axis":null},"x2":{"datum":12.39},"y":{"datum":13.67,"type":"quantitative","scale":{"domain":[-12.98,13.8],"nice":false,"zero":false},"axis":null},"y2":{"datum":4.94}}},
{"data":{"values":[{}]},"mark":{"type":"text","text":"投信","font":"Noto Sans CJK TC","fontWeight":"bold","fontSize":36,"align":"center","baseline":"middle","fill":"black","stroke":"black","strokeWidth":4,"strokeJoin":"round"},"encoding":{"x":{"datum":5.8,"type":"quantitative","scale":{"domain":[-0.9646,63.586],"nice":false,"zero":false},"axis":null},"y":{"datum":9.31,"type":"quantitative","scale":{"domain":[-12.98,13.8],"nice":false,"zero":false},"axis":null}}},
{"data":{"values":[{}]},"mark":{"type":"text","text":"投信","font":"Noto Sans CJK TC","fontWeight":"bold","fontSize":36,"align":"center","baseline":"middle","fill":"white"},"encoding":{"x":{"datum":5.8,"type":"quantitative","scale":{"domain":[-0.9646,63.586],"nice":false,"zero":false},"axis":null},"y":{"datum":9.31,"type":"quantitative","scale":{"domain":[-12.98,13.8],"nice":false,"zero":false},"axis":null}}},
{"data":{"values":[{}]},"mark":{"type":"text","text":"(0.61%)","align":"left","baseline":"middle","fontSize":9,"color":"#bbbbbb"},"encoding":{"x":{"datum":12.45,"type":"quantitative","scale":{"domain":[-0.9646,63.586],"nice":false,"zero":false},"axis":null},"y":{"datum":12.55,"type":"quantitative","scale":{"domain":[-12.98,13.8],"nice":false,"zero":false},"axis":null}}},
{"data":{"values":[{}]},"mark":{"type":"point","shape":"square","filled":true,"size":9,"color":"#e00000","opacity":1},"encoding":{"x":{"datum":34.65,"type":"quantitative","scale":{"domain":[-0.9646,63.586],"nice":false,"zero":false},"axis":null},"y":{"datum":12.95,"type":"quantitative","scale":{"domain":[-12.98,13.8],"nice":false,"zero":false},"axis":null}}},
{"data":{"values":[{}]},"mark":{"type":"point","shape":"square","filled":true,"size":9,"color":"#20a020","opacity":1},"encoding":{"x":{"datum":34.65,"type":"quantitative","scale":{"domain":[-0.9646,63.586],"nice":false,"zero":false},"axis":null},"y":{"datum":12.2,"type":"quantitative","scale":{"domain":[-12.98,13.8],"nice":false,"zero":false},"axis":null}}},
{"data":{"values":[{}]},"mark":{"type":"text","text":"買賣超金額(億) 6","align":"left","baseline":"middle","font":"Noto Sans CJK TC","fontSize":9,"color":"#c8c8c8"},"encoding":{"x":{"datum":35.47,"type":"quantitative","scale":{"domain":[-0.9646,63.586],"nice":false,"zero":false},"axis":null},"y":{"datum":12.55,"type":"quantitative","scale":{"domain":[-12.98,13.8],"nice":false,"zero":false},"axis":null}}}
]},
{"width":816,"height":96,"layer":[
{"data":{"values":[{}]},"mark":{"type":"rect","fill":"white","stroke":"#333333","strokeWidth":1},"encoding":{"x":{"datum":1,"type":"quantitative","scale":{"domain":[0,816],"nice":false,"zero":false},"axis":null},"x2":{"datum":815},"y":{"datum":22,"type":"quantitative","scale":{"domain":[0,96],"nice":false,"zero":false,"reverse":true},"axis":null},"y2":{"datum":95}}},
{"data":{"values":[{}]},"mark":{"type":"text","text":"從籌碼面觀察，外資，投信持續站在買方，外資於今(6)日更是大買超過百億，","align":"left","baseline":"middle","font":"Noto Sans CJK TC","fontWeight":"bold","fontSize":23,"color":"black"},"encoding":{"x":{"datum":9,"type":"quantitative","scale":{"domain":[0,816],"nice":false,"zero":false},"axis":null},"y":{"datum":42,"type":"quantitative","scale":{"domain":[0,96],"nice":false,"zero":false,"reverse":true},"axis":null}}},
{"data":{"values":[{}]},"mark":{"type":"text","text":"目前均線維持上揚助攻、量能持續溫和增加，以偏多格局看待","align":"left","baseline":"middle","font":"Noto Sans CJK TC","fontWeight":"bold","fontSize":23,"color":"black"},"encoding":{"x":{"datum":9,"type":"quantitative","scale":{"domain":[0,816],"nice":false,"zero":false},"axis":null},"y":{"datum":74.5,"type":"quantitative","scale":{"domain":[0,96],"nice":false,"zero":false,"reverse":true},"axis":null}}}
]}
]
}
